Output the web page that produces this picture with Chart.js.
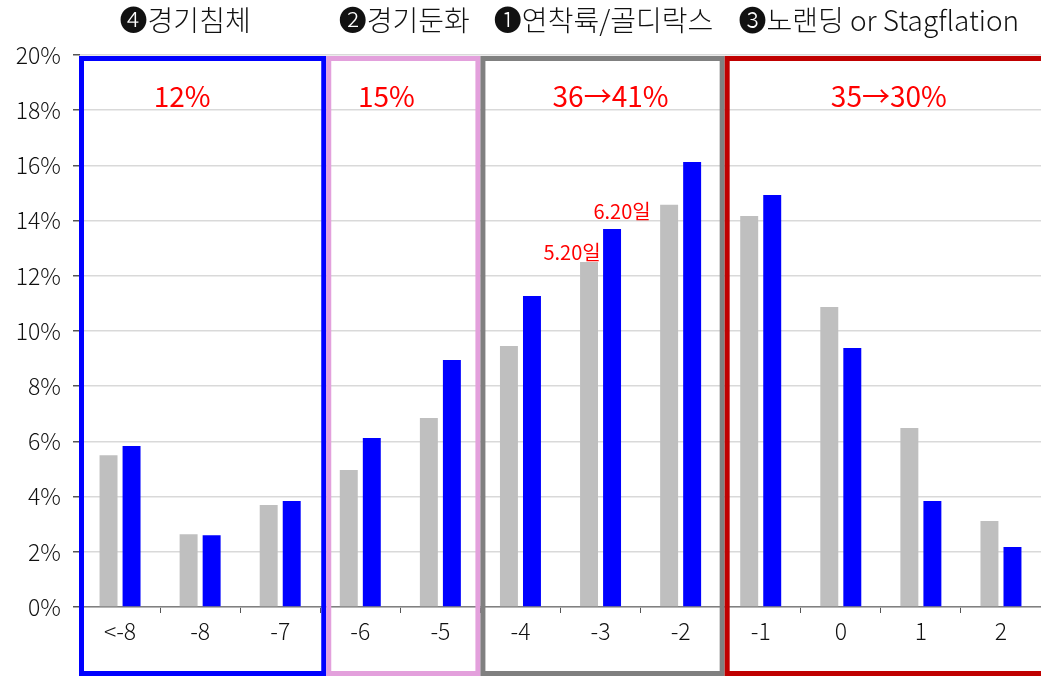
<!DOCTYPE html>
<html>
<head>
<meta charset="utf-8">
<script src="https://cdn.jsdelivr.net/npm/chart.js@4/dist/chart.umd.min.js"></script>
<style>
  body { margin: 0; background: #fff; }
  #wrap { width: 1041px; height: 676px; }
</style>
</head>
<body>
<div id="wrap"><canvas id="chart" width="1041" height="676"></canvas></div>
<script>
// Data
const categories = ["<-8", "-8", "-7", "-6", "-5", "-4", "-3", "-2", "-1", "0", "1", "2"];
const may20 = [5.5, 2.64, 3.7, 4.96, 6.85, 9.46, 12.5, 14.57, 14.17, 10.87, 6.49, 3.12];
const jun20 = [5.83, 2.6, 3.84, 6.12, 8.95, 11.27, 13.7, 16.12, 14.93, 9.38, 3.84, 2.17];
const seriesNames = ["5.20일", "6.20일"];
const yTicks = [0, 2, 4, 6, 8, 10, 12, 14, 16, 18, 20];

// Scenario groups (category index ranges)
const groupTitles = ["❹경기침체", "❷경기둔화", "❶연착륙/골디락스", "❸노랜딩 or Stagflation"];
const groupShares = ["12%", "15%", "36→41%", "35→30%"];
const groupFrom = [0, 3, 5, 8];
const groupTo = [2, 4, 7, 11];

// Box styling and fine placement
const boxStyle = [
  { color: "#0000ff", l: -1, r: 6, titleDx: -15, shareDx: -18 },
  { color: "#e3a0dc", l: 6, r: 0, titleDx: 4, shareDx: -14 },
  { color: "#808080", l: 0, r: 4, titleDx: 3, shareDx: 10 },
  { color: "#c00000", l: 4, r: 6, titleDx: -2, shareDx: 8 },
];
const FONT = "'Noto Sans CJK KR', 'Noto Sans', sans-serif";

const scenarioPlugin = {
  id: "scenarios",
  afterDatasetsDraw(chart) {
    const ctx = chart.ctx;
    const x = chart.scales.x;
    const area = chart.chartArea;
    const half = (x.getPixelForValue(1) - x.getPixelForValue(0)) / 2;
    const lw = 5;
    ctx.save();
    ctx.lineWidth = lw;
    groupFrom.forEach((from, i) => {
      const st = boxStyle[i];
      const left = x.getPixelForValue(from) - half + st.l;
      const right = x.getPixelForValue(groupTo[i]) + half + st.r;
      const top = area.top + 1;
      const bottom = chart.height;
      ctx.strokeStyle = st.color;
      ctx.strokeRect(left + lw / 2, top + lw / 2, right - left - lw, bottom - top - lw);
    });
    ctx.restore();
  },
  afterDraw(chart) {
    const ctx = chart.ctx;
    const x = chart.scales.x;
    ctx.save();
    ctx.textAlign = "center";
    ctx.textBaseline = "middle";
    groupFrom.forEach((from, i) => {
      const st = boxStyle[i];
      const cx = (x.getPixelForValue(from) + x.getPixelForValue(groupTo[i])) / 2;
      ctx.fillStyle = "#111";
      ctx.font = "300 28px " + FONT;
      ctx.fillText(groupTitles[i], cx + st.titleDx, 20);
      ctx.fillStyle = "#ff0000";
      ctx.font = "28px " + FONT;
      ctx.fillText(groupShares[i], cx + st.shareDx, 96);
    });

    // series labels next to the "-3" bars
    const idx = categories.indexOf("-3");
    const g = chart.getDatasetMeta(0).data[idx];
    const b = chart.getDatasetMeta(1).data[idx];
    ctx.fillStyle = "#ff0000";
    ctx.font = "20px " + FONT;
    ctx.fillText(seriesNames[0], g.x - 17, g.y - 10);
    ctx.fillText(seriesNames[1], b.x + 10, b.y - 17);
    ctx.restore();
  },
};

new Chart(document.getElementById("chart"), {
  type: "bar",
  data: {
    labels: categories,
    datasets: [
      {
        label: seriesNames[0],
        data: may20,
        backgroundColor: "#bfbfbf",
        categoryPercentage: 0.575,
        barPercentage: 0.78,
      },
      {
        label: seriesNames[1],
        data: jun20,
        backgroundColor: "#0000ff",
        categoryPercentage: 0.575,
        barPercentage: 0.78,
      },
    ],
  },
  options: {
    responsive: false,
    animation: false,
    layout: { padding: { top: 55, left: 0, right: 0, bottom: 0 } },
    plugins: {
      legend: { display: false },
      tooltip: { enabled: false },
    },
    scales: {
      x: {
        afterFit: (s) => { s.height = 69; },
        grid: {
          drawOnChartArea: false,
          tickLength: 6,
          tickColor: "#555",
        },
        border: { color: "#808080", width: 1.5 },
        ticks: {
          padding: 4,
          color: "#111",
          font: { family: FONT, size: 23, weight: 300 },
        },
      },
      y: {
        min: 0,
        max: 20,
        afterFit: (s) => { s.width = 80; },
        afterBuildTicks: (s) => { s.ticks = yTicks.map((v) => ({ value: v })); },
        grid: {
          color: "#d9d9d9",
          lineWidth: 1.5,
          tickLength: 7,
          tickColor: "#555",
        },
        border: { display: false },
        ticks: {
          padding: 12,
          color: "#111",
          font: { family: FONT, size: 23, weight: 300 },
          callback: (v) => v + "%",
        },
      },
    },
  },
  plugins: [scenarioPlugin],
});
</script>
</body>
</html>
